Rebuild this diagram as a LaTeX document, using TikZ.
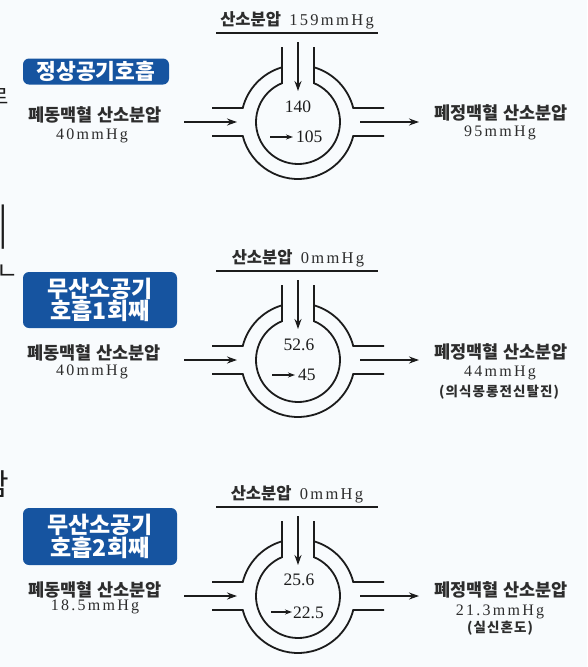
\documentclass[tikz,border=0pt]{standalone}
\usepackage{fontspec}
\usepackage{graphicx}
\usetikzlibrary{arrows.meta,calc}
\newfontfamily\kr{Noto Sans CJK KR}
\newfontfamily\krsp{Noto Sans CJK KR}[LetterSpace=8]
\newfontfamily\sr{Liberation Serif}
\newfontfamily\srsp{Liberation Serif}[LetterSpace=14]
\definecolor{bg}{RGB}{248,251,253}
\definecolor{boxblue}{RGB}{22,84,160}
\definecolor{ink}{RGB}{28,28,28}
\definecolor{txt}{RGB}{45,45,45}
\begin{document}
\begin{tikzpicture}[x=1pt,y=1pt,
  wall/.style={draw=ink,line width=1.8pt},
  flow/.style={draw=ink,line width=1.8pt,-{Stealth[length=10pt,width=7pt]}},
  smallflow/.style={draw=ink,line width=1.4pt,-{Stealth[length=7pt,width=5pt]}},
  lbl/.style={text=txt,inner sep=0pt,align=center},
  krlbl/.style={lbl,font=\kr\bfseries\fontsize{17.5}{19}\selectfont},
  mmlbl/.style={lbl,font=\srsp\fontsize{16}{18}\selectfont},
  numlbl/.style={lbl,text=ink,font=\sr\fontsize{17.5}{19}\selectfont},
  bluebox/.style={fill=boxblue,rounded corners=6pt,text=white,inner sep=0pt,align=center,
    font=\kr\bfseries\fontsize{23}{22.5}\selectfont},
  frag/.style={text=ink,inner sep=0pt,font=\kr}]
\useasboundingbox (0,0) rectangle (587,-667);
\fill[bg] (0,0) rectangle (587,-667);
\clip (0,0) rectangle (587,-667);

% cut-off text at the left edge
\node[frag,anchor=east,font=\kr\fontsize{21}{21}\selectfont] (fa) at (9,-97) {로};
\node[frag,font=\kr\fontsize{50}{50}\selectfont] (fb) at (3.5,-227) {\scalebox{0.55}[1]{ㅣ}};
\node[frag,anchor=west,font=\kr\fontsize{24}{24}\selectfont] (fc) at (-4,-272) {ㄴ};
\node[frag,anchor=east,font=\kr\fontsize{30}{30}\selectfont] (fd) at (9,-484) {함};

% three alveolus diagrams
\foreach \i/\o in {1/0,2/238,3/474}{
  \coordinate (cen\i) at (298,-122-\o);
  % inner wall with airway
  \draw[wall] (282,-47-\o) -- ($(cen\i)+(112.4:42pt)$)
     arc[start angle=112.4,end angle=427.6,radius=42pt] -- (314,-47-\o);
  % outer wall with vessels
  \draw[wall] (212,-108-\o) -- ($(cen\i)+(165.8:57pt)$)
     arc[start angle=165.8,end angle=106.3,radius=57pt];
  \draw[wall] (384,-108-\o) -- ($(cen\i)+(14.2:57pt)$)
     arc[start angle=14.2,end angle=73.7,radius=57pt];
  \draw[wall] (212,-136-\o) -- ($(cen\i)+(194.2:57pt)$)
     arc[start angle=194.2,end angle=345.8,radius=57pt] -- (384,-136-\o);
  % flows
  \coordinate (ta\i) at (298,-42-\o); \coordinate (tb\i) at (298,-91-\o);
  \draw[flow] (ta\i) -- (tb\i);
  \coordinate (la\i) at (184,-122-\o); \coordinate (lb\i) at (237,-122-\o);
  \draw[flow] (la\i) -- (lb\i);
  \coordinate (ra\i) at (360,-122-\o); \coordinate (rb\i) at (419,-122-\o);
  \draw[flow] (ra\i) -- (rb\i);
  % underline of the title
  \coordinate (ua\i) at (216,-33-\o); \coordinate (ub\i) at (378,-33-\o);
  \draw[wall,line width=1.6pt] (ua\i) -- (ub\i);
}

% titles
\node[lbl] (t1) at (297,-20) {{\kr\bfseries\fontsize{16.5}{18}\selectfont 산소분압}\hspace{5pt} {\srsp\fontsize{16.5}{18}\selectfont 159mmHg}};
\node[lbl] (t2) at (298,-258) {{\kr\bfseries\fontsize{16.5}{18}\selectfont 산소분압}\hspace{5pt} {\srsp\fontsize{16.5}{18}\selectfont 0mmHg}};
\node[lbl] (t3) at (297,-494) {{\kr\bfseries\fontsize{16.5}{18}\selectfont 산소분압}\hspace{5pt} {\srsp\fontsize{16.5}{18}\selectfont 0mmHg}};

% values inside
\node[numlbl] (n1a) at (298,-107) {140};
\coordinate (s1a) at (270,-137); \coordinate (s1b) at (293,-137);
\draw[smallflow] (s1a) -- (s1b);
\node[numlbl,anchor=west] (n1b) at (296,-137) {105};

\node[numlbl] (n2a) at (299,-345) {52.6};
\coordinate (s2a) at (272,-375); \coordinate (s2b) at (295,-375);
\draw[smallflow] (s2a) -- (s2b);
\node[numlbl,anchor=west] (n2b) at (298,-375) {45};

\node[numlbl] (n3a) at (299,-580) {25.6};
\coordinate (s3a) at (271,-612); \coordinate (s3b) at (292,-612);
\draw[smallflow] (s3a) -- (s3b);
\node[numlbl,anchor=west] (n3b) at (293,-613) {22.5};

% left side labels
\node[bluebox,minimum width=146pt,minimum height=26pt,font=\kr\bfseries\fontsize{21.5}{22}\selectfont] (b1) at (96,-71.5) {정상공기호흡};
\node[krlbl] (l1a) at (95,-115) {폐동맥혈 산소분압};
\node[mmlbl] (l1b) at (92,-136) {40mmHg};

\node[bluebox,minimum width=154pt,minimum height=56pt] (b2) at (100,-300) {무산소공기\\호흡1회째};
\node[krlbl] (l2a) at (94,-353) {폐동맥혈 산소분압};
\node[mmlbl] (l2b) at (92,-372) {40mmHg};

\node[bluebox,minimum width=154pt,minimum height=57pt] (b3) at (100,-536.5) {무산소공기\\호흡2회째};
\node[krlbl] (l3a) at (95,-590) {폐동맥혈 산소분압};
\node[mmlbl] (l3b) at (95,-607) {18.5mmHg};

% right side labels
\node[krlbl] (r1a) at (501,-113) {폐정맥혈 산소분압};
\node[mmlbl] (r1b) at (500,-133) {95mmHg};

\node[krlbl] (r2a) at (501,-352) {폐정맥혈 산소분압};
\node[mmlbl] (r2b) at (500,-373) {44mmHg};
\node[lbl,font=\krsp\bfseries\fontsize{13.5}{15}\selectfont] (r2c) at (499,-392) {(의식몽롱전신탈진)};

\node[krlbl] (r3a) at (501,-590) {폐정맥혈 산소분압};
\node[mmlbl] (r3b) at (500,-612) {21.3mmHg};
\node[lbl,font=\krsp\bfseries\fontsize{13.5}{15}\selectfont] (r3c) at (500,-628) {(실신혼도)};
\end{tikzpicture}
\end{document}
